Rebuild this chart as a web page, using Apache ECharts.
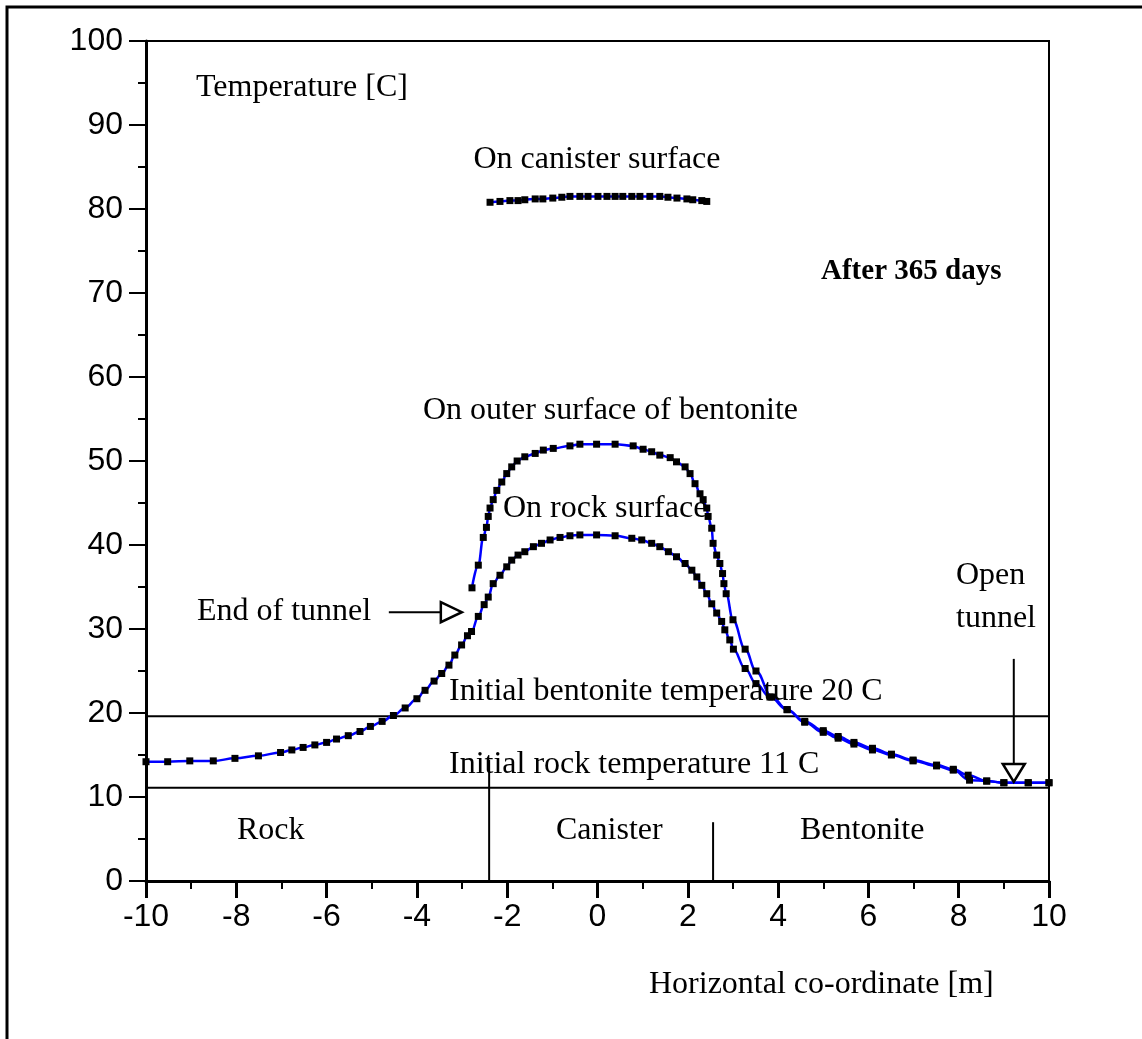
<!DOCTYPE html>
<html>
<head>
<meta charset="utf-8">
<script src="https://cdn.jsdelivr.net/npm/echarts@6/dist/echarts.min.js"></script>
<style>
  html, body { margin: 0; padding: 0; background: #fff; }
  #chart { width: 1142px; height: 1039px; }
</style>
</head>
<body>
<div id="chart"></div>
<script>
// temperatures after 365 days, [x in m, T in C]
const canisterSurface = [
  [-2.38, 80.8], [-2.16, 80.9], [-1.94, 81.0], [-1.76, 81.0], [-1.61, 81.1],
  [-1.38, 81.2], [-1.21, 81.2], [-0.99, 81.3], [-0.79, 81.4], [-0.61, 81.5],
  [-0.39, 81.5], [-0.21, 81.5], [0.01, 81.5], [0.21, 81.5], [0.39, 81.5],
  [0.56, 81.5], [0.76, 81.5], [0.94, 81.5], [1.16, 81.5], [1.38, 81.5],
  [1.56, 81.4], [1.76, 81.3], [1.98, 81.2], [2.11, 81.1], [2.31, 81.0], [2.42, 80.9]
];
const bentoniteSurface = [
  [-2.78, 34.9], [-2.64, 37.6], [-2.53, 40.9], [-2.46, 42.1], [-2.42, 43.4],
  [-2.38, 44.4], [-2.31, 45.4], [-2.23, 46.5], [-2.12, 47.5], [-2.01, 48.5],
  [-1.9, 49.3], [-1.78, 50.0], [-1.61, 50.5], [-1.38, 50.9], [-1.2, 51.3],
  [-0.98, 51.5], [-0.61, 51.8], [-0.39, 52.0], [-0.02, 52.0], [0.39, 52.0],
  [0.79, 51.8], [1.01, 51.4], [1.2, 51.1], [1.38, 50.7], [1.61, 50.4],
  [1.75, 49.9], [1.94, 49.3], [2.05, 48.5], [2.16, 47.3], [2.27, 46.1],
  [2.34, 45.4], [2.42, 44.4], [2.45, 43.4], [2.53, 42.0], [2.56, 40.2],
  [2.64, 38.8], [2.71, 37.8], [2.77, 36.6], [2.8, 35.4], [2.85, 34.2],
  [3.0, 31.1], [3.27, 27.6], [3.51, 25.0], [3.86, 21.9], [4.2, 20.4],
  [4.59, 19.0], [5.0, 17.9], [5.33, 17.2], [5.68, 16.5], [6.09, 15.8],
  [6.51, 15.1], [6.99, 14.4], [7.51, 13.8], [7.88, 13.3], [8.21, 12.6],
  [8.62, 11.9], [9.0, 11.7], [9.54, 11.7], [10.0, 11.7]
];
const rockSurface = [
  [-10.0, 14.2], [-9.52, 14.2], [-9.03, 14.3], [-8.51, 14.3], [-8.03, 14.6],
  [-7.51, 14.9], [-7.02, 15.3], [-6.77, 15.6], [-6.52, 15.9], [-6.26, 16.2],
  [-6.0, 16.5], [-5.78, 16.9], [-5.52, 17.3], [-5.26, 17.8], [-5.03, 18.4],
  [-4.77, 19.0], [-4.52, 19.7], [-4.26, 20.6], [-4.0, 21.7], [-3.82, 22.7],
  [-3.62, 23.8], [-3.45, 24.7], [-3.29, 25.7], [-3.16, 26.9], [-3.01, 28.1],
  [-2.88, 29.2], [-2.79, 29.7], [-2.64, 31.5], [-2.51, 32.9], [-2.42, 33.8],
  [-2.31, 35.4], [-2.16, 36.4], [-2.01, 37.4], [-1.9, 38.2], [-1.76, 38.8],
  [-1.61, 39.2], [-1.42, 39.8], [-1.24, 40.2], [-1.05, 40.6], [-0.83, 40.9],
  [-0.61, 41.1], [-0.39, 41.2], [-0.02, 41.2], [0.39, 41.1], [0.76, 40.8],
  [0.98, 40.6], [1.2, 40.2], [1.38, 39.8], [1.57, 39.2], [1.75, 38.6],
  [1.94, 37.8], [2.09, 37.0], [2.2, 36.2], [2.31, 35.2], [2.42, 34.2],
  [2.53, 33.0], [2.64, 31.9], [2.75, 30.9], [2.82, 29.9], [2.93, 28.7],
  [3.01, 27.6], [3.27, 25.3], [3.51, 23.5], [3.82, 21.9], [4.2, 20.4],
  [4.59, 18.9], [5.0, 17.7], [5.33, 17.0], [5.68, 16.3], [6.09, 15.6],
  [6.51, 15.0], [6.99, 14.3], [7.51, 13.7], [7.88, 13.2], [8.24, 12.0],
  [8.62, 11.9], [9.0, 11.7], [9.54, 11.7], [10.0, 11.7]
];
const initialBentoniteTemp = 19.6;
const initialRockTemp = 11.1;
const zoneBorders = [[-2.4, 14.4], [2.56, 7.0]]; // [x, top of divider]
const endOfTunnel = [-3.47, 32.0];
const openTunnel = [9.22, 11.8];

const serif = "Liberation Serif";
const sans = "Liberation Sans";

const chart = echarts.init(document.getElementById("chart"));

function curve(data) {
  return {
    type: "line",
    data: data,
    smooth: 0.4,
    smoothMonotone: "x",
    symbol: "rect",
    symbolSize: 7,
    showSymbol: true,
    itemStyle: { color: "#000" },
    lineStyle: { color: "#0000ff", width: 2.5 },
    emphasis: { disabled: true },
    z: 3,
  };
}

function blackLine(data) {
  return {
    type: "line",
    data: data,
    symbol: "none",
    lineStyle: { color: "#000", width: 2 },
    emphasis: { disabled: true },
    z: 2,
  };
}

chart.setOption({
  animation: false,
  grid: {
    left: 146, top: 41, right: 93, bottom: 158,
    show: true, borderColor: "#000", borderWidth: 2,
  },
  xAxis: {
    type: "value", min: -10, max: 10, interval: 2,
    axisLine: { onZero: false, lineStyle: { color: "#000", width: 3 } },
    axisTick: { length: 17, lineStyle: { color: "#000", width: 3 } },
    minorTick: { show: true, splitNumber: 2, length: 8, lineStyle: { color: "#000", width: 2 } },
    axisLabel: { color: "#000", fontFamily: sans, fontSize: 32, margin: 20 },
    splitLine: { show: false },
  },
  yAxis: {
    type: "value", min: 0, max: 100, interval: 10,
    axisLine: { onZero: false, lineStyle: { color: "#000", width: 3 } },
    axisTick: { length: 17, lineStyle: { color: "#000", width: 2 } },
    minorTick: { show: true, splitNumber: 2, length: 8, lineStyle: { color: "#000", width: 2 } },
    axisLabel: { color: "#000", fontFamily: sans, fontSize: 32, margin: 23 },
    splitLine: { show: false },
  },
  series: [
    blackLine([[-10, initialBentoniteTemp], [10, initialBentoniteTemp]]),
    blackLine([[-10, initialRockTemp], [10, initialRockTemp]]),
    blackLine([[zoneBorders[0][0], 0], zoneBorders[0]]),
    blackLine([[zoneBorders[1][0], 0], zoneBorders[1]]),
    curve(canisterSurface),
    curve(bentoniteSurface),
    curve(rockSurface),
  ],
});

const px = (p) => chart.convertToPixel({ gridIndex: 0 }, p);

function label(text, x, y, font, align) {
  return {
    type: "text", x: x, y: y, z: 10,
    style: {
      text: text, fill: "#000", font: font || ("32px " + serif),
      align: align || "left", verticalAlign: "middle",
    },
  };
}

const endPt = px(endOfTunnel);
const openPt = px(openTunnel);

chart.setOption({
  graphic: [
    { type: "rect", shape: { x: 7, y: 7, width: 1300, height: 1300 },
      style: { fill: "none", stroke: "#000", lineWidth: 3 }, silent: true },
    label("Temperature [C]", 196, 88),
    label("On canister surface", 597, 160, null, "center"),
    label("After 365 days", 821, 272, "bold 29px " + serif),
    label("On outer surface of bentonite", 423, 411),
    label("On rock surface", 503, 509),
    label("End of tunnel", 197, 612),
    label("Open", 956, 576),
    label("tunnel", 956, 619),
    label("Initial bentonite temperature 20 C", 449, 692),
    label("Initial rock temperature 11 C", 449, 765),
    label("Rock", 237, 831),
    label("Canister", 556, 831),
    label("Bentonite", 800, 831),
    label("Horizontal co-ordinate [m]", 649, 985),
    // end of tunnel arrow
    { type: "line", shape: { x1: endPt[0] - 52, y1: endPt[1], x2: endPt[0], y2: endPt[1] },
      style: { stroke: "#000", lineWidth: 2 } },
    { type: "polygon", shape: { points: [[endPt[0], endPt[1] - 10], [endPt[0] + 21, endPt[1]], [endPt[0], endPt[1] + 10]] },
      style: { fill: "#fff", stroke: "#000", lineWidth: 2.5 }, z: 10 },
    // open tunnel arrow
    { type: "line", shape: { x1: openPt[0], y1: openPt[1] - 123, x2: openPt[0], y2: openPt[1] - 18 },
      style: { stroke: "#000", lineWidth: 2 } },
    { type: "polygon", shape: { points: [[openPt[0] - 11, openPt[1] - 18], [openPt[0] + 11, openPt[1] - 18], [openPt[0], openPt[1]]] },
      style: { fill: "#fff", stroke: "#000", lineWidth: 2.5 }, z: 10 },
  ],
});
</script>
</body>
</html>
